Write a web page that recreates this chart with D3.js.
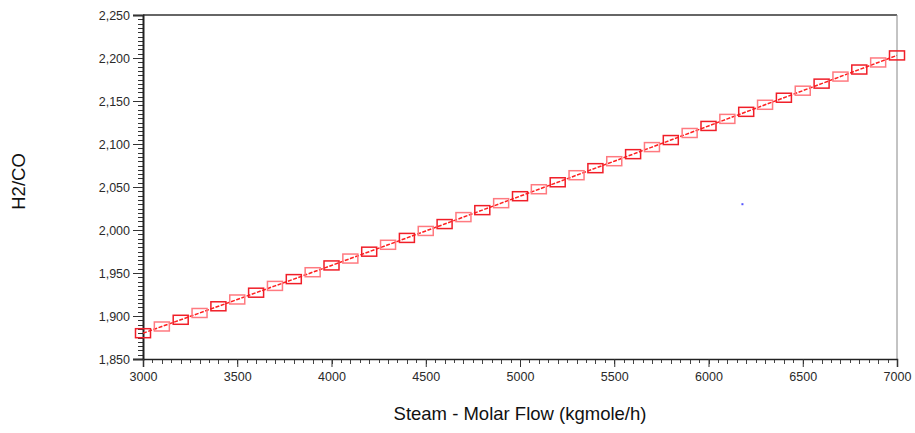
<!DOCTYPE html>
<html><head><meta charset="utf-8">
<script src="https://cdn.jsdelivr.net/npm/d3@7"></script>
<style>
html,body{margin:0;padding:0;background:#fff;}
svg{display:block;font-family:"Liberation Sans",Arial,sans-serif;}
</style></head>
<body><svg id="c" width="915" height="433"></svg>
<script>
const steamFlow = [3000,3100,3200,3300,3400,3500,3600,3700,3800,3900,4000,4100,4200,4300,4400,4500,4600,4700,4800,4900,5000,5100,5200,5300,5400,5500,5600,5700,5800,5900,6000,6100,6200,6300,6400,6500,6600,6700,6800,6900,7000];
const h2co = [1880.0,1887.8,1895.6,1903.5,1911.3,1919.2,1927.1,1935.0,1942.9,1950.9,1958.8,1966.8,1974.8,1982.8,1990.8,1998.9,2006.9,2015.0,2023.1,2031.2,2039.3,2047.4,2055.5,2063.7,2071.9,2080.0,2088.2,2096.4,2104.6,2112.8,2121.0,2129.2,2137.4,2145.6,2153.8,2162.0,2170.2,2178.4,2186.6,2194.8,2203.0];
const xTicks = [3000,3500,4000,4500,5000,5500,6000,6500,7000];
const yTicks = [1850,1900,1950,2000,2050,2100,2150,2200,2250];
const strayPoint = [[6180, 2030]];

const L=143, R=897, T=15, B=359;
const svg = d3.select("#c");
const x = d3.scaleLinear().domain([3000,7000]).range([L,R]);
const y = d3.scaleLinear().domain([1850,2250]).range([B,T]);

// frame top & right
svg.append("line").attr("x1",L).attr("x2",R).attr("y1",T).attr("y2",T).attr("stroke","#333").attr("stroke-width",1.5);
svg.append("line").attr("x1",R).attr("x2",R).attr("y1",T).attr("y2",B).attr("stroke","#888").attr("stroke-width",1);

// y minor ticks
const yMinor = d3.range(1850,2250.1,5);
svg.append("g").selectAll("line").data(yMinor).join("line")
  .attr("x1",L-5).attr("x2",L).attr("y1",d=>Math.round(y(d))+0.5).attr("y2",d=>Math.round(y(d))+0.5)
  .attr("stroke","#333").attr("stroke-width",1);
// y major ticks
const yAxis = d3.axisLeft(y).tickValues(yTicks).tickSize(10).tickPadding(3).tickFormat(d3.format(","));
const gy = svg.append("g").attr("transform",`translate(${L},0)`).call(yAxis);
gy.select(".domain").attr("stroke","#222").attr("stroke-width",2);
gy.selectAll(".tick line").attr("stroke","#333");
gy.selectAll("text").attr("font-size",12.5).attr("fill","#2a2a2a").attr("font-family","Liberation Sans, Arial, sans-serif");

// x minor ticks
const xMinor = d3.range(3000,7000.1,50);
svg.append("g").selectAll("line").data(xMinor).join("line")
  .attr("x1",d=>Math.round(x(d))+0.5).attr("x2",d=>Math.round(x(d))+0.5)
  .attr("y1",B).attr("y2",(d,i)=>B+(i%2===0?5:4))
  .attr("stroke","#444").attr("stroke-width",1);
const xAxis = d3.axisBottom(x).tickValues(xTicks).tickSize(8).tickPadding(5).tickFormat(d3.format("d"));
const gx = svg.append("g").attr("transform",`translate(0,${B})`).call(xAxis);
gx.select(".domain").attr("stroke","#222").attr("stroke-width",1.5);
gx.selectAll(".tick line").attr("stroke","#333");
gx.selectAll("text").attr("font-size",12.5).attr("fill","#2a2a2a").attr("font-family","Liberation Sans, Arial, sans-serif");

// line
const pts = steamFlow.map((v,i)=>[v,h2co[i]]);
svg.append("path").datum(pts)
  .attr("d",d3.line().x(d=>x(d[0])).y(d=>y(d[1])))
  .attr("fill","none").attr("stroke","#ff2020").attr("stroke-width",1.5).attr("stroke-dasharray","4,1.5");

// markers
const mw=15, mh=9;
svg.append("g").selectAll("rect").data(pts).join("rect")
  .attr("x",d=>x(d[0])-mw/2).attr("y",d=>y(d[1])-mh/2)
  .attr("width",mw).attr("height",mh)
  .attr("fill","none")
  .attr("stroke",(d,i)=> i%2===0 ? "#f01e28" : "#ff7a80")
  .attr("stroke-width",1.5);

// stray blue dot
svg.append("g").selectAll("rect").data(strayPoint).join("rect")
  .attr("x",d=>x(d[0])-1).attr("y",d=>y(d[1])-1).attr("width",2).attr("height",2).attr("fill","#5555ff");

// axis titles
svg.append("text").attr("x",520).attr("y",420).attr("text-anchor","middle")
  .attr("font-size",18.5).attr("fill","#111").text("Steam - Molar Flow (kgmole/h)");
svg.append("text").attr("transform","translate(25,181.5) rotate(-90)").attr("text-anchor","middle")
  .attr("font-size",18.5).attr("fill","#111").text("H2/CO");
</script></body></html>
